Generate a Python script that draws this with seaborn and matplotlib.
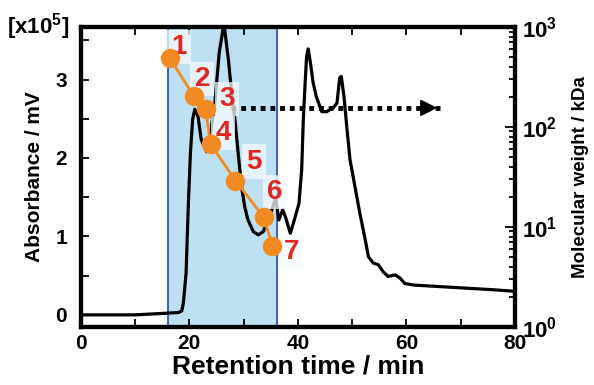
import numpy as np
import pandas as pd
import matplotlib
matplotlib.use('Agg')
import matplotlib.pyplot as plt
import seaborn as sns
from matplotlib.ticker import MultipleLocator, LogLocator, FixedLocator, FixedFormatter, NullFormatter

# chromatogram (absorbance in units of 1e5 mV)
time_min = [0, 5, 10, 15.5, 18.0, 18.6, 18.9, 19.4, 19.8, 20.2, 20.6, 21.0, 21.6, 22.2, 23.2, 23.8,
            24.7, 25.5, 26.2, 26.4, 27.2, 27.8, 28.4, 29.0, 29.6, 30.2, 30.8, 31.8, 32.7, 33.6,
            34.5, 35.4, 35.9, 36.5, 37.2, 37.8, 38.6, 39.3, 40.2, 40.7, 41.0, 41.3, 41.6, 41.9,
            42.4, 42.8, 43.4, 44.4, 45.3, 46.5, 47.2, 47.7, 48.0, 48.5, 49.0, 49.6, 50.5, 51.4,
            52.4, 53.0, 53.9, 54.8, 55.7, 56.6, 57.9, 58.8, 59.7, 61.3, 66.2, 71.1, 76.0, 80.0]
absorbance = [0.0, 0.0, 0.0, 0.02, 0.03, 0.05, 0.15, 0.53, 1.38, 2.06, 2.49, 2.62, 2.53, 2.23, 2.08, 2.27,
              2.70, 3.34, 3.64, 3.70, 3.25, 2.83, 2.49, 2.06, 1.64, 1.38, 1.21, 1.06, 1.02, 1.06,
              1.21, 1.38, 1.49, 1.21, 1.34, 1.23, 1.04, 1.20, 1.42, 1.85, 2.49, 2.91, 3.29, 3.39,
              3.17, 2.96, 2.78, 2.59, 2.59, 2.64, 2.70, 3.02, 3.04, 2.78, 2.40, 1.98, 1.64, 1.30,
              0.96, 0.74, 0.66, 0.64, 0.55, 0.49, 0.51, 0.47, 0.40, 0.38, 0.36, 0.34, 0.32, 0.30]

# fractions: retention time vs molecular weight
frac_labels = ['1', '2', '3', '4', '5', '6', '7']
frac_time = [16.4, 20.8, 23.0, 23.9, 28.5, 33.7, 35.3]
frac_mw = [487, 204, 150, 67.6, 29, 12.5, 6.5]
label_time = [18.1, 22.4, 26.9, 26.2, 31.9, 35.8, 38.8]
label_mw = [631, 302, 190, 87, 45, 22.4, 5.6]

shade_start, shade_end = 16.0, 36.1
arrow_y = 155
arrow_x = [27.6, 66.2]

sns.set_style('ticks')
plt.rcParams['font.family'] = ['Liberation Sans', 'DejaVu Sans']
plt.rcParams['font.weight'] = 'bold'
plt.rcParams['mathtext.fontset'] = 'custom'
plt.rcParams['mathtext.bf'] = 'Liberation Sans:bold'
plt.rcParams['mathtext.rm'] = 'Liberation Sans:bold'
plt.rcParams['mathtext.default'] = 'bf'
for key in ['text.color', 'axes.labelcolor', 'xtick.color', 'ytick.color', 'axes.edgecolor']:
    plt.rcParams[key] = 'black'

fig = plt.figure(figsize=(5.94, 3.85), dpi=100)
ax = fig.add_axes([0.136, 0.151, 0.731, 0.779])

ax.axvspan(shade_start, shade_end, color='#bde0f2', lw=0, zorder=0)
ax.axvline(shade_start, color='#4466b0', lw=1.5, zorder=1)
ax.axvline(shade_end, color='#4466b0', lw=1.5, zorder=1)

chrom = pd.DataFrame({'t': time_min, 'a': absorbance})
sns.lineplot(data=chrom, x='t', y='a', ax=ax, color='black', lw=2.3, sort=False, zorder=3)

ax.set_xlim(0, 80)
ax.set_ylim(-0.153, 3.67)
ax.xaxis.set_major_locator(MultipleLocator(20))
ax.xaxis.set_minor_locator(MultipleLocator(10))
ax.yaxis.set_major_locator(FixedLocator([0, 1, 2, 3]))
ax.yaxis.set_minor_locator(MultipleLocator(0.5))
ax.tick_params(which='both', direction='in', top=True, width=1.3, length=6)
ax.tick_params(axis='x', labelsize=15, pad=5)
ax.tick_params(axis='y', labelsize=15, pad=10)
for lab in ax.get_xticklabels() + ax.get_yticklabels():
    lab.set_fontweight('bold')
ax.set_xlabel('Retention time / min', fontsize=19, fontweight='bold', labelpad=1)
ax.set_ylabel('Absorbance / mV', fontsize=15, fontweight='bold', labelpad=8)
for s in ax.spines.values():
    s.set_linewidth(3)
    s.set_visible(True)
fig.text(0.012, 0.93, r'[x10$^{\mathbf{5}}$]', fontsize=16, fontweight='bold', va='center')

ax2 = ax.twinx()
ax2.set_yscale('log')
ax2.set_ylim(1, 1000)
ax2.yaxis.set_major_locator(FixedLocator([1, 10, 100, 1000]))
ax2.yaxis.set_major_formatter(FixedFormatter([r'$\mathbf{10^{0}}$', r'$\mathbf{10^{1}}$',
                                              r'$\mathbf{10^{2}}$', r'$\mathbf{10^{3}}$']))
ax2.yaxis.set_minor_locator(LogLocator(base=10, subs=np.arange(2, 10)))
ax2.yaxis.set_minor_formatter(NullFormatter())
ax2.tick_params(which='both', direction='in', width=1.3, labelsize=16)
ax2.tick_params(which='major', length=7, pad=5)
ax2.tick_params(which='minor', length=4)
ax2.set_ylabel('Molecular weight / kDa', fontsize=13.5, fontweight='bold', labelpad=11)
for s in ax2.spines.values():
    s.set_linewidth(3)

# dotted arrow
ax2.plot(arrow_x, [arrow_y, arrow_y], color='black', lw=3.5, dashes=(1, 1), zorder=4)
ax2.annotate('', xy=(arrow_x[1], arrow_y), xytext=(arrow_x[1] - 3, arrow_y),
             arrowprops=dict(arrowstyle='-|>,head_length=1.0,head_width=0.5', color='black', lw=1.5),
             zorder=4)

# fraction labels with light boxes
for lab, tx, ty in zip(frac_labels, label_time, label_mw):
    ax2.text(tx, ty, lab, color='#e2261f', fontsize=20, fontweight='bold', ha='center', va='center',
             zorder=5, bbox=dict(boxstyle='square,pad=0.15', fc='#f4fafd', ec='none', alpha=0.75))

frac = pd.DataFrame({'t': frac_time, 'mw': frac_mw})
sns.lineplot(data=frac, x='t', y='mw', ax=ax2, color='#f28a23', lw=2, marker='o', markersize=14,
             markeredgewidth=0, sort=False, zorder=6)
ax2.set_xlabel('')
ax2.set_xlim(0, 80)

fig.savefig('out.png', dpi=100)
